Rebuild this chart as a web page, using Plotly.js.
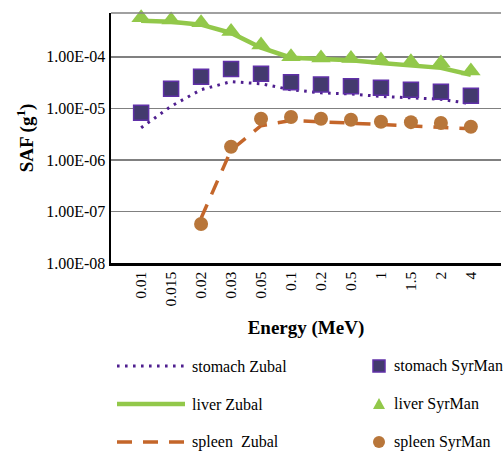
<!DOCTYPE html>
<html>
<head>
<meta charset="utf-8">
<script src="https://cdn.plot.ly/plotly-3.0.1.min.js"></script>
<style>html,body{margin:0;padding:0;background:#fff;}#chart{width:503px;height:451px;}</style>
</head>
<body>
<div id="chart"></div>
<script>
const energies = ["0.01","0.015","0.02","0.03","0.05","0.1","0.2","0.5","1","1.5","2","4"];
const stomachZubal = [4.2e-6,1.1e-5,2.3e-5,3.3e-5,3.0e-5,2.3e-5,2.0e-5,1.9e-5,1.7e-5,1.6e-5,1.5e-5,1.23e-5];
const stomachSyrMan = [8.2e-6,2.4e-5,4.1e-5,5.8e-5,4.7e-5,3.2e-5,2.9e-5,2.7e-5,2.5e-5,2.3e-5,2.1e-5,1.75e-5];
const liverZubal = [5.0e-4,4.8e-4,4.2e-4,2.9e-4,1.5e-4,9.6e-5,9.1e-5,8.6e-5,7.6e-5,6.7e-5,6.1e-5,4.5e-5];
const liverSyrMan = [5.7e-4,5.2e-4,4.6e-4,3.1e-4,1.7e-4,1.0e-4,9.5e-5,9.3e-5,8.7e-5,8.0e-5,7.6e-5,5.3e-5];
const spleenZubalE = ["0.02","0.03","0.05","0.1","0.2","0.5","1","1.5","2","4"];
const spleenZubal = [7.4e-8,1.55e-6,4.6e-6,5.8e-6,5.5e-6,5.2e-6,4.8e-6,4.6e-6,4.4e-6,4.0e-6];
const spleenSyrMan = [5.7e-8,1.8e-6,6.3e-6,6.8e-6,6.3e-6,6.0e-6,5.5e-6,5.4e-6,5.2e-6,4.4e-6];
const yTickVals = [1e-8,1e-7,1e-6,1e-5,1e-4];
const yTickText = ["1.00E-08","1.00E-07","1.00E-06","1.00E-05","1.00E-04"];
const lineNames = ["stomach Zubal","liver Zubal","spleen  Zubal"];
const markerNames = ["stomach SyrMan","liver SyrMan","spleen SyrMan"];

const FONT = "Liberation Serif, Times New Roman, serif";
const cStomLine = "#4f1f8f", cStomMk = "#433a6e", cStomBorder = "#6030a8";
const cLiver = "#92c84a";
const cSpleenLine = "#c4662a", cSpleenMk = "#b8763a";
const dotDash = "2.6px,5.4px";
const longDash = "15px,11px";

const traces = [
  {x: energies, y: liverZubal, type: "scatter", mode: "lines", name: lineNames[1],
   line: {color: cLiver, width: 4.5}},
  {x: spleenZubalE, y: spleenZubal, type: "scatter", mode: "lines", name: lineNames[2],
   line: {color: cSpleenLine, width: 3.5, dash: longDash}},
  {x: energies, y: stomachZubal, type: "scatter", mode: "lines", name: lineNames[0],
   line: {color: cStomLine, width: 3, dash: dotDash}},
  {x: energies, y: stomachSyrMan, type: "scatter", mode: "markers", name: markerNames[0], cliponaxis: false,
   marker: {symbol: "square", size: 15, color: cStomMk, line: {color: cStomBorder, width: 1.5}}},
  {x: energies, y: liverSyrMan, type: "scatter", mode: "markers", name: markerNames[1], cliponaxis: false,
   marker: {symbol: "triangle-up", size: 17, color: cLiver}},
  {x: spleenZubalE, y: spleenSyrMan, type: "scatter", mode: "markers", name: markerNames[2], cliponaxis: false,
   marker: {symbol: "circle", size: 14, color: cSpleenMk}}
];

// Custom legend (page pixels -> paper coords)
const L = 111, PW = 390, B = 263, PH = 250;
const px = v => (v - L) / PW;
const py = v => (B - v) / PH;
const rowsY = [366, 404, 442];
const lineStyles = [
  {color: cStomLine, width: 3, dash: dotDash},
  {color: cLiver, width: 4.5, dash: "solid"},
  {color: cSpleenLine, width: 3.5, dash: longDash}
];
const shapes = [{type: "line", xref: "paper", yref: "paper", x0: 0, x1: 1, y0: 1, y1: 1,
                 line: {color: "#808080", width: 1.5}}];
const annotations = [];
rowsY.forEach((ry, i) => {
  shapes.push({type: "line", xref: "paper", yref: "paper", x0: px(117), x1: px(185),
               y0: py(ry), y1: py(ry), line: lineStyles[i]});
  annotations.push({xref: "paper", yref: "paper", x: px(190), y: py(ry), text: lineNames[i],
                    showarrow: false, xanchor: "left", yanchor: "middle",
                    font: {family: FONT, size: 16, color: "#000"}});
  annotations.push({xref: "paper", yref: "paper", x: px(392), y: py(ry), text: markerNames[i],
                    showarrow: false, xanchor: "left", yanchor: "middle",
                    font: {family: FONT, size: 16, color: "#000"}});
});
const mx = 379;
shapes.push({type: "rect", xref: "paper", yref: "paper", x0: px(mx - 6), x1: px(mx + 6),
             y0: py(rowsY[0] + 6), y1: py(rowsY[0] - 6), fillcolor: cStomMk,
             line: {color: cStomBorder, width: 1.5}});
shapes.push({type: "path", xref: "paper", yref: "paper",
             path: `M${px(mx - 6)},${py(rowsY[1] + 5)} L${px(mx + 6)},${py(rowsY[1] + 5)} L${px(mx)},${py(rowsY[1] - 6)} Z`,
             fillcolor: cLiver, line: {width: 0}});
shapes.push({type: "circle", xref: "paper", yref: "paper", x0: px(mx - 6), x1: px(mx + 6),
             y0: py(rowsY[2] + 6), y1: py(rowsY[2] - 6), fillcolor: cSpleenMk, line: {width: 0}});

const layout = {
  width: 503, height: 451,
  margin: {l: 111, r: 2, t: 13, b: 188},
  paper_bgcolor: "#fff", plot_bgcolor: "#fff",
  font: {family: FONT, color: "#000"},
  showlegend: false,
  xaxis: {
    type: "category", tickangle: -90, tickfont: {family: FONT, size: 15.5},
    showgrid: false, showline: true, linecolor: "#000", linewidth: 2.5,
    ticks: "", zeroline: false,
    title: {text: "<b>Energy (MeV)</b>", font: {family: FONT, size: 19}, standoff: 15}
  },
  yaxis: {
    type: "log", range: [-8, -3.15], tickvals: yTickVals, ticktext: yTickText,
    tickfont: {family: FONT, size: 16}, ticks: "", ticklen: 0,
    showgrid: true, gridcolor: "#808080", gridwidth: 1.5,
    showline: true, linecolor: "#000", linewidth: 2.5, zeroline: false,
    title: {text: "<b>SAF (g<sup>1</sup>)</b>", font: {family: FONT, size: 19}, standoff: 8}
  },
  shapes: shapes,
  annotations: annotations
};

Plotly.newPlot("chart", traces, layout, {displayModeBar: false, staticPlot: true});
</script>
</body>
</html>
